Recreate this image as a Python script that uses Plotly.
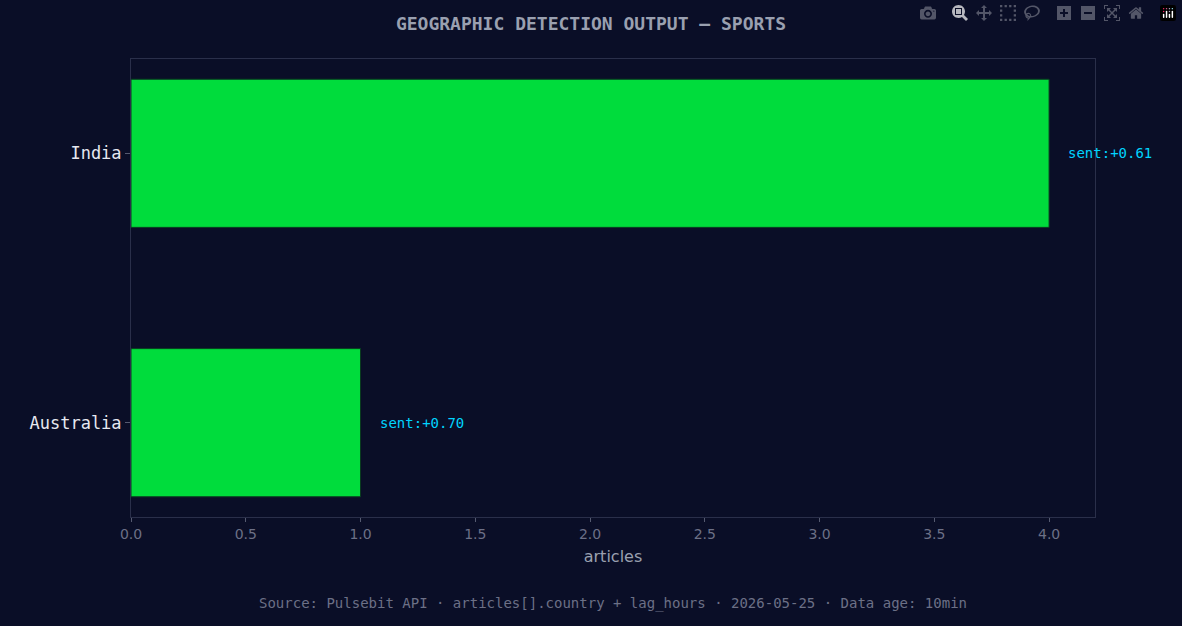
import plotly.graph_objects as go

countries = ["Australia", "India"]
articles = [1, 4]
sentiment = ["+0.70", "+0.61"]

bg = "#0a0e27"
fig = go.Figure(go.Bar(
    x=articles, y=countries, orientation="h", width=0.55,
    marker=dict(color="#00dc3c", line=dict(color="#0a3a20", width=1)),
    hoverinfo="skip"))
for c, a, s in zip(countries, articles, sentiment):
    fig.add_annotation(x=a, y=c, text=f"sent:{s}", showarrow=False, xanchor="left",
                       xshift=17, font=dict(family="DejaVu Sans Mono", size=14, color="#00d4ff"))
fig.update_layout(
    width=1182, height=626, paper_bgcolor=bg, plot_bgcolor=bg,
    margin=dict(l=131, r=87, t=59, b=109),
    title=dict(text="<b>GEOGRAPHIC DETECTION OUTPUT — SPORTS</b>", x=0.5, y=0.962, yanchor="middle",
               font=dict(family="DejaVu Sans Mono", size=18, color="#9aa0b0")),
    xaxis=dict(range=[0, 4.2], dtick=0.5, tickformat=".1f", showgrid=False, zeroline=False,
               ticks="outside", ticklen=4, tickcolor="#555a70",
               showline=True, linecolor="#2a2f4a", mirror=True,
               tickfont=dict(family="DejaVu Sans", size=14, color="#6c7086"),
               title=dict(text="articles", font=dict(family="DejaVu Sans", size=16, color="#9aa0b0"), standoff=10)),
    yaxis=dict(range=[-0.35, 1.35], showgrid=False, zeroline=False, ticks="outside", ticklen=5,
               tickcolor="#555a70", showline=True, linecolor="#2a2f4a", mirror=True,
               tickfont=dict(family="DejaVu Sans Mono", size=17, color="#e6e8f0")),
    showlegend=False,
)
fig.add_annotation(xref="paper", yref="paper", x=0.5, y=-0.188, yanchor="middle", showarrow=False,
                   text="Source: Pulsebit API · articles[].country + lag_hours · 2026-05-25 · Data age: 10min",
                   font=dict(family="DejaVu Sans Mono", size=14, color="#6c7086"))
fig.write_html("out.html", post_script="document.body.style.margin='0';document.body.style.background='#0a0e27';")
